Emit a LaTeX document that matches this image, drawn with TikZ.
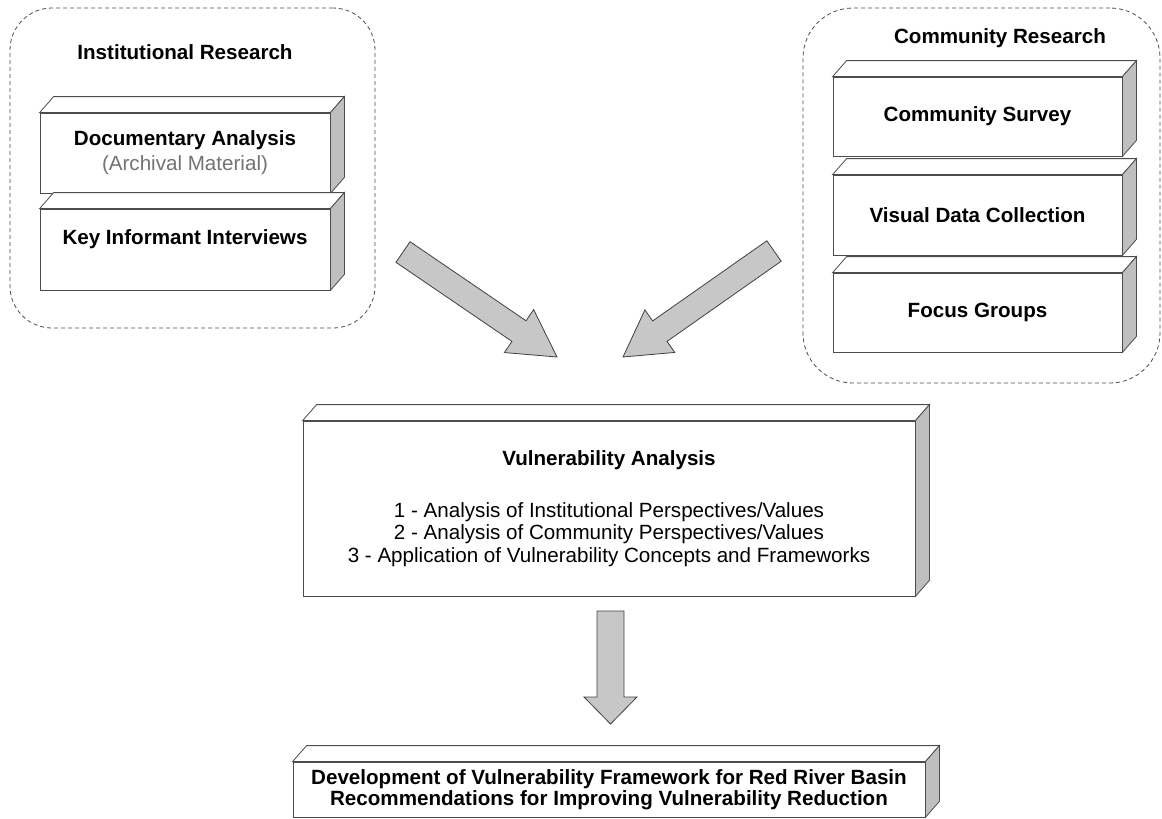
\documentclass[tikz,border=0pt]{standalone}
\usepackage{fontspec}
\setmainfont{Liberation Sans}
\usepackage{tikz}
\usetikzlibrary{calc}

% top and side faces of a slab node
\newcommand{\slabfaces}[1]{%
    \draw[slab edge, fill=white] (#1.north west) -- ++(14,-16) -- ([shift={(14,-16)}]#1.north east) -- (#1.north east) -- cycle;
    \draw[slab edge, fill=black!25] (#1.north east) -- ++(14,-16) -- ([shift={(14,-16)}]#1.south east) -- (#1.south east) -- cycle;}

% block arrow: tail, tip, shaft half width, head half width, head length
\newcommand{\blockarrow}[5]{%
    \coordinate (headbase) at ($(#2)!#5!(#1)$);
    \draw[block arrow] ($(#1)!#3!90:(#2)$) -- ($(headbase)!#3!-90:(#1)$) -- ($(headbase)!#4!-90:(#1)$) -- (#2)
        -- ($(headbase)!#4!90:(#1)$) -- ($(headbase)!#3!90:(#1)$) -- ($(#1)!#3!-90:(#2)$) -- cycle;}

\begin{document}
\begin{tikzpicture}
                            [x=1pt, y=-1pt,
                             every node/.style={inner sep=0pt, align=center},
                             boldlabel/.style={font=\fontsize{20.6}{#1}\selectfont\bfseries},
                             plainlabel/.style={font=\fontsize{20.6}{#1}\selectfont},
                             group/.style={draw=black!70, dash pattern=on 4pt off 3pt, line width=0.8pt, rounded corners=42pt},
                             slab edge/.style={draw=black!70, line width=0.8pt},
                             slab/.style={slab edge, fill=white},
                             block arrow/.style={draw=black!75, line width=0.8pt, fill=black!22, line join=miter}]

    \useasboundingbox (0,0) rectangle (1162,819);

    % institutional research
    \node[group, minimum width=365pt, minimum height=320pt] (instGroup) at (192.5,168) {};
    \node[boldlabel=25] (instTitle) at (185,52) {Institutional Research};
    \node[slab, boldlabel=25, minimum width=290pt, minimum height=80pt] (docAnalysis) at (185,153)
        {Documentary Analysis\\{\mdseries\color{black!55}(Archival Material)}};
    \slabfaces{docAnalysis}
    \node[slab, boldlabel=25, minimum width=290pt, minimum height=81pt] (keyInterviews) at (185,249.5)
        {Key Informant Interviews\\\mbox{}};
    \slabfaces{keyInterviews}

    % community research
    \node[group, rounded corners=50pt, minimum width=357pt, minimum height=375pt] (commGroup) at (981.5,195.5) {};
    \node[boldlabel=25] (commTitle) at (1000,38) {Community Research};
    \node[slab, boldlabel=25, minimum width=289pt, minimum height=79pt] (commSurvey) at (977.5,116.5) {Community Survey};
    \slabfaces{commSurvey}
    \node[slab, boldlabel=25, minimum width=289pt, minimum height=80pt] (visualData) at (977.5,215) {Visual Data Collection};
    \slabfaces{visualData}
    \node[slab, boldlabel=25, minimum width=289pt, minimum height=79pt] (focusGroups) at (977.5,312.5) {Focus Groups};
    \slabfaces{focusGroups}

    % analysis and outcome
    \node[slab, plainlabel=22.5, minimum width=612pt, minimum height=175pt] (vulnAnalysis) at (609,508.5)
        {\textbf{Vulnerability Analysis}\\[29.5pt]
         1 - Analysis of Institutional Perspectives/Values\\
         2 - Analysis of Community Perspectives/Values\\
         3 - Application of Vulnerability Concepts and Frameworks};
    \slabfaces{vulnAnalysis}
    \node[slab, boldlabel=21, minimum width=632pt, minimum height=55pt] (framework) at (609,789.5)
        {Development of Vulnerability Framework for Red River Basin\\
         Recommendations for Improving Vulnerability Reduction};
    \slabfaces{framework}

    % block arrows
    \coordinate (instTail) at (403,252);
    \coordinate (instTip) at (557,357);
    \coordinate (commTail) at (774,251);
    \coordinate (commTip) at (623,357);
    \coordinate (vulnTail) at (610.5,611);
    \coordinate (vulnTip) at (610.5,724);
    \blockarrow{instTail}{instTip}{12.5pt}{26pt}{46pt}
    \blockarrow{commTail}{commTip}{12.5pt}{26pt}{45pt}
    \blockarrow{vulnTail}{vulnTip}{13.5pt}{26.5pt}{27pt}
\end{tikzpicture}
\end{document}
